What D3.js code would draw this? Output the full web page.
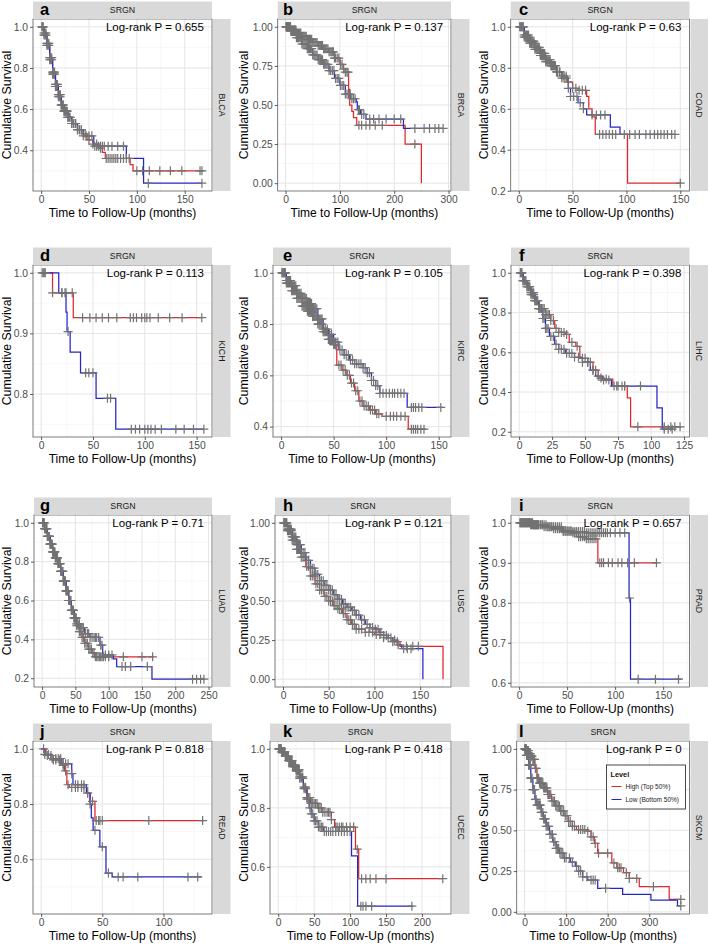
<!DOCTYPE html>
<html><head><meta charset="utf-8">
<script src="https://cdn.jsdelivr.net/npm/d3@7"></script>
<style>body{margin:0;background:#fff} svg{display:block} text{font-family:"Liberation Sans",Arial,Helvetica,sans-serif}</style>
</head><body><svg id="c" width="709" height="945"></svg>
<script>
// ---------------- DATA ----------------
const geneLabel = "SRGN";
const letters = ["a","b","c","d","e","f","g","h","i","j","k","l"];
const cancers = ["BLCA","BRCA","COAD","KICH","KIRC","LIHC","LUAD","LUSC","PRAD","READ","UCEC","SKCM"];
const pValues = ["0.655","0.137","0.63","0.113","0.105","0.398","0.71","0.121","0.657","0.818","0.418","0"];
const xMaxes = [170,290,151,157,154,123,243,175,169,133,229,378];
const yMins  = [0.24,0,0.237,0.742,0.39,0.213,0.195,0,0.609,0.43,0.467,0.035];
const xTicks = [[0,50,100,150],[0,100,200,300],[0,50,100,150],[0,50,100,150],[0,50,100,150],[0,25,50,75,100,125],
                [0,50,100,150,200,250],[0,50,100,150],[0,50,100,150],[0,50,100],[0,50,100,150,200],[0,100,200,300]];
const yTicks = [[0.4,0.6,0.8,1.0],[0,0.25,0.5,0.75,1],[0.2,0.4,0.6,0.8,1.0],[0.8,0.9,1.0],[0.4,0.6,0.8,1.0],[0.2,0.4,0.6,0.8,1.0],
                [0.2,0.4,0.6,0.8,1.0],[0,0.25,0.5,0.75,1],[0.6,0.7,0.8,0.9,1.0],[0.6,0.8,1.0],[0.6,0.8,1.0],[0,0.25,0.5,0.75,1]];
const legendTitle = "Level";
const legendLabels = ["High (Top 50%)","Low (Bottom 50%)"];
const xTitle = "Time to Follow-Up (months)";
const yTitle = "Cumulative Survival";

// Kaplan-Meier steps [time, survival] (last point = end of follow-up)
const blcaHigh = [[0,1],[3,0.97],[6,0.92],[9,0.85],[12,0.78],[15,0.72],[18,0.67],[21,0.62],[24,0.59],[28,0.56],[32,0.53],[38,0.50],[44,0.48],[48,0.45],[54,0.43],[60,0.41],[64,0.39],[67,0.36],[93,0.33],[96,0.30],[168,0.30]];
const blcaLow  = [[0,1],[3,0.96],[6,0.91],[9,0.84],[12,0.77],[15,0.71],[18,0.66],[21,0.62],[24,0.59],[28,0.56],[32,0.53],[38,0.50],[44,0.47],[55,0.42],[89,0.36],[107,0.24],[168,0.24]];
const brcaHigh = [[0,1],[10,0.98],[20,0.96],[30,0.94],[40,0.92],[50,0.90],[60,0.88],[70,0.86],[80,0.84],[90,0.80],[100,0.76],[106,0.73],[110,0.71],[116,0.60],[118,0.50],[122,0.46],[125,0.42],[131,0.37],[220,0.25],[250,0.0]];
const brcaLow  = [[0,1],[10,0.97],[20,0.93],[30,0.89],[40,0.86],[50,0.82],[60,0.79],[70,0.76],[80,0.72],[90,0.67],[100,0.625],[110,0.57],[120,0.54],[130,0.52],[132,0.47],[138,0.44],[148,0.41],[217,0.35],[290,0.35]];
const coadHigh = [[0,1],[5,0.96],[10,0.93],[15,0.90],[20,0.87],[25,0.84],[30,0.81],[35,0.78],[40,0.76],[45,0.73],[50,0.70],[55,0.69],[63,0.66],[65,0.60],[68,0.56],[71,0.475],[101,0.237],[151,0.237]];
const coadLow  = [[0,1],[5,0.95],[10,0.92],[15,0.89],[20,0.86],[25,0.83],[30,0.81],[35,0.78],[40,0.75],[46,0.70],[48,0.66],[55,0.63],[60,0.60],[63,0.57],[85,0.51],[94,0.475],[145,0.475]];
const kichHigh = [[0,1],[11,0.967],[31,0.926],[155,0.926]];
const kichLow  = [[0,1],[17,0.967],[24,0.935],[25,0.903],[28,0.869],[38,0.835],[53,0.793],[72,0.742],[157,0.742]];
const kircHigh = [[0,1],[5,0.96],[10,0.93],[15,0.90],[20,0.87],[25,0.85],[30,0.83],[35,0.80],[40,0.77],[45,0.74],[50,0.72],[53,0.64],[58,0.62],[62,0.60],[66,0.57],[70,0.54],[74,0.50],[78,0.48],[84,0.465],[90,0.45],[96,0.44],[121,0.39],[138,0.39]];
const kircLow  = [[0,1],[5,0.97],[10,0.95],[15,0.92],[20,0.90],[25,0.88],[30,0.86],[35,0.82],[40,0.78],[45,0.76],[50,0.73],[55,0.70],[60,0.68],[65,0.66],[70,0.645],[78,0.63],[82,0.61],[86,0.58],[90,0.56],[94,0.53],[120,0.475],[154,0.475]];
const lihcHigh = [[0,1],[3,0.96],[6,0.93],[9,0.89],[12,0.86],[15,0.82],[20,0.79],[24,0.76],[27,0.72],[30,0.70],[35,0.69],[38,0.65],[43,0.63],[46,0.57],[52,0.55],[56,0.51],[60,0.47],[64,0.465],[71,0.43],[82,0.37],[84.5,0.225],[123,0.225]];
const lihcLow  = [[0,1],[3,0.96],[6,0.93],[9,0.90],[12,0.86],[15,0.82],[18,0.77],[20,0.72],[23,0.68],[27,0.64],[30,0.615],[35,0.595],[42,0.575],[48,0.55],[54,0.51],[58,0.48],[63,0.46],[70,0.43],[104.5,0.32],[108.5,0.213],[117,0.213]];
const luadHigh = [[0,1],[4,0.97],[8,0.93],[12,0.89],[16,0.85],[20,0.82],[24,0.79],[28,0.75],[32,0.70],[36,0.65],[40,0.60],[44,0.55],[48,0.51],[52,0.47],[56,0.44],[60,0.41],[64,0.38],[70,0.35],[75,0.33],[79,0.31],[168,0.31]];
const luadLow  = [[0,1],[4,0.97],[8,0.93],[12,0.89],[16,0.85],[20,0.82],[24,0.79],[28,0.75],[32,0.70],[36,0.65],[40,0.60],[44,0.55],[48,0.51],[52,0.48],[58,0.46],[64,0.43],[72,0.41],[87,0.37],[91,0.32],[107,0.30],[112,0.26],[165,0.195],[243,0.195]];
const luscHigh = [[0,1],[5,0.95],[10,0.89],[15,0.83],[20,0.78],[25,0.72],[30,0.66],[35,0.61],[40,0.57],[45,0.53],[50,0.50],[55,0.47],[60,0.45],[65,0.42],[70,0.38],[75,0.35],[80,0.32],[90,0.30],[100,0.285],[110,0.265],[120,0.24],[128,0.21],[175,0]];
const luscLow  = [[0,1],[5,0.96],[10,0.91],[15,0.86],[20,0.81],[25,0.76],[30,0.71],[35,0.67],[40,0.63],[45,0.60],[50,0.57],[55,0.54],[60,0.51],[65,0.48],[70,0.46],[75,0.44],[80,0.41],[85,0.38],[90,0.35],[95,0.33],[100,0.32],[105,0.30],[110,0.28],[115,0.265],[120,0.25],[125,0.22],[130,0.195],[153,0]];
const pradHigh = [[0,1],[15,0.995],[30,0.99],[45,0.98],[55,0.975],[62,0.965],[70,0.96],[82,0.90],[144,0.90]];
const pradLow  = [[0,1],[12,0.995],[25,0.99],[35,0.985],[45,0.978],[70,0.975],[114.5,0.812],[116,0.609],[169,0.609]];
const readHigh = [[0,1],[4,0.976],[10,0.96],[16,0.94],[19,0.92],[21,0.87],[23,0.86],[37.5,0.84],[40,0.81],[44,0.74],[133,0.74]];
const readLow  = [[0,1],[3,0.98],[8,0.965],[17,0.946],[25,0.91],[26,0.87],[37,0.84],[40,0.80],[41,0.75],[42.5,0.705],[48,0.645],[53,0.55],[58,0.536],[131,0.536]];
const ucecHigh = [[0,1],[5,0.99],[10,0.975],[15,0.96],[20,0.945],[25,0.93],[30,0.905],[35,0.87],[40,0.835],[45,0.815],[55,0.80],[62,0.785],[74,0.76],[78.5,0.735],[107.5,0.66],[112,0.56],[229,0.56]];
const ucecLow  = [[0,1],[5,0.99],[10,0.975],[15,0.96],[20,0.94],[25,0.925],[30,0.90],[35,0.865],[40,0.83],[43,0.80],[46,0.78],[50,0.756],[56,0.735],[63,0.72],[102,0.637],[110.5,0.467],[188,0.467]];
const skcmHigh = [[0,1],[5,0.99],[10,0.97],[15,0.955],[20,0.935],[25,0.88],[30,0.82],[35,0.79],[45,0.76],[55,0.72],[65,0.68],[75,0.65],[85,0.62],[95,0.59],[105,0.555],[115,0.525],[125,0.505],[150,0.495],[160,0.46],[168,0.42],[176,0.36],[210,0.30],[222,0.27],[238,0.24],[252,0.205],[276,0.155],[348,0.076],[378,0.076]];
const skcmLow  = [[0,1],[5,0.96],[10,0.90],[15,0.82],[20,0.75],[25,0.69],[30,0.655],[40,0.61],[45,0.57],[52,0.525],[60,0.475],[68,0.43],[76,0.39],[84,0.36],[95,0.33],[110,0.305],[122,0.28],[130,0.25],[140,0.215],[152,0.195],[176,0.144],[236,0.107],[304,0.072],[368,0.036],[376,0.036]];

// censoring times (months)
const blcaHighCens = [1,2,3,4,5,6,7,8,9,10,11,12,13,14,15,16,17,18,19,20,21,22,23,24,25,26,27,28,29,30,32,34,36,38,40,42,46,50,54,58,62,68,70,72,74,76,78,80,83,86,89,92,100,106,113,124,135,147,166,168];
const blcaLowCens  = [1,2,3,4,5,6,7,8,9,10,11,12,13,14,15,16,17,18,19,20,21,22,23,24,25,26,27,28,30,32,34,36,38,40,42,44,47,50,53,56,58,60,62,64,66,70,74,80,86,112,168];
const brcaHighCens = [1,2,3,4,5,6,7,8,9,10,11,12,13,14,15,16,17,18,19,20,22,24,26,28,30,32,34,36,38,40,42,44,46,48,50,52,54,56,58,60,62,64,66,68,70,72,74,76,78,80,82,84,86,88,90,92,95,98,101,104,107,110,113,115,135,140,148,155,165,178,238];
const brcaLowCens  = [1,2,3,4,5,6,7,8,9,10,11,12,13,14,15,16,17,18,19,20,22,24,26,28,30,32,34,36,38,40,42,44,46,48,50,52,54,56,58,60,62,64,66,68,70,72,74,76,78,80,83,86,89,92,95,98,101,104,107,110,113,116,119,122,125,128,134,136,140,144,155,162,172,185,200,212,238,255,265,275,282,290];
const coadHighCens = [1,2,3,4,5,6,7,8,9,10,11,12,13,14,15,16,17,18,19,20,21,22,23,24,25,26,27,28,29,30,31,32,33,34,35,36,38,40,42,44,46,50,53,56,59,62,75,78,81,84,87,90,150];
const coadLowCens  = [1,2,3,4,5,6,7,8,9,10,11,12,13,14,15,16,17,18,19,20,21,22,23,24,25,26,27,28,29,30,31,32,33,34,36,38,40,42,44,46,48,51,54,57,60,68,72,76,80,98,103,108,112,118,122,126,129,132,135,138,142,145];
const kichHighCens = [1,3,11,20,24,30,40,47,53,59,65,73,86,89,92,97,100,102,105,113,124,136,155];
const kichLowCens  = [2,4,20,23,26,43,46,50,64,67,87,91,95,100,103,106,110,116,130,138,147,157];
const kircHighCens = [1,2,3,4,5,6,7,8,9,10,11,12,13,14,15,16,17,18,19,20,21,22,23,24,25,26,27,28,29,30,31,32,33,34,35,36,37,38,39,40,41,42,43,44,45,46,47,48,49,50,51,52,55,57,59,61,63,65,67,69,71,73,75,77,79,81,83,85,87,89,91,93,100,104,107,110,114,118,124,126,128,130,133,136];
const kircLowCens  = [1,2,3,4,5,6,7,8,9,10,11,12,13,14,15,16,17,18,19,20,21,22,23,24,25,26,27,28,29,30,31,32,33,34,35,36,37,38,39,40,42,44,46,48,50,52,54,56,58,60,62,64,66,68,70,72,74,76,78,80,82,84,86,88,90,92,94,97,100,103,106,108,111,114,117,124,126,128,131,134,152];
const lihcHighCens = [1,2,3,4,5,6,7,8,9,10,11,12,13,14,15,16,17,18,19,20,21,22,23,24,26,28,30,32,34,36,40,44,48,50,52,54,56,58,62,66,72,75,78,80,90,110,115,118,122];
const lihcLowCens  = [1,2,3,4,5,6,7,8,9,10,11,12,13,14,15,16,17,18,19,20,21,22,24,26,28,30,32,34,36,38,40,42,45,48,52,56,60,64,68,74,80,92,110,113,116];
const luadHighCens = [1,2,3,4,5,6,7,8,9,10,11,12,13,14,15,16,17,18,19,20,21,22,23,24,25,26,27,28,29,30,31,32,33,34,35,36,37,38,39,40,41,42,43,44,45,46,47,48,49,50,51,52,54,56,58,60,62,64,66,68,70,72,74,76,78,80,82,84,86,88,90,92,95,100,122,150,166];
const luadLowCens  = [1,2,3,4,5,6,7,8,9,10,11,12,13,14,15,16,17,18,19,20,21,22,23,24,25,26,27,28,29,30,31,32,33,34,35,36,37,38,39,40,41,42,43,44,45,46,47,48,49,50,51,52,54,56,58,60,62,65,68,70,72,75,78,80,82,85,88,90,95,100,105,120,125,133,158,226,232,238,243];
const luscHighCens = [1,2,3,4,5,6,7,8,9,10,11,12,13,14,15,16,17,18,19,20,22,24,26,28,30,32,34,36,38,40,42,44,46,48,50,52,54,56,58,60,62,64,66,68,70,72,74,76,78,80,83,86,90,94,98,102,106,110,115,120,125,135,142,148];
const luscLowCens  = [1,2,3,4,5,6,7,8,9,10,11,12,13,14,15,16,17,18,19,20,22,24,26,28,30,32,34,36,38,40,42,44,46,48,50,52,54,56,58,60,62,64,66,68,70,72,74,76,78,80,83,86,89,92,95,98,101,104,107,110,113,118,122,126,132,136,140];
const pradHighCens = [1,2,3,4,5,6,7,8,9,10,11,12,13,14,15,16,17,18,19,20,22,24,26,28,30,32,34,36,38,40,42,44,46,48,50,52,54,56,58,60,62,64,66,68,70,72,74,76,78,80,84,86,88,93,97,103,107,113,120,143];
const pradLowCens  = [1,2,3,4,5,6,7,8,9,10,11,12,13,14,15,16,17,18,19,20,22,24,26,28,30,32,34,36,38,40,42,44,46,48,50,52,54,56,58,60,62,64,66,68,70,72,74,76,78,80,82,84,86,88,90,92,95,100,105,110,115,124,142,166];
const readHighCens = [2,5,8,10,12,15,18,20,22,25,28,30,33,35,38,42,45,47,48,50,88,132];
const readLowCens  = [3,6,9,12,14,16,18,20,22,25,28,30,33,35,38,40,44,50,55,63,67,79,120,128];
const ucecHighCens = [1,2,3,4,5,6,7,8,9,10,11,12,13,14,15,16,17,18,19,20,21,22,23,24,25,26,27,28,29,30,32,34,36,38,40,42,44,46,48,50,52,54,56,58,60,62,65,68,70,72,74,80,82,85,88,90,95,100,105,110,116,122,128,136,150,229];
const ucecLowCens  = [1,2,3,4,5,6,7,8,9,10,11,12,13,14,15,16,17,18,19,20,21,22,23,24,25,26,27,28,29,30,32,34,36,38,40,42,44,46,48,50,52,54,56,58,60,62,64,67,70,73,76,80,84,88,92,96,100,115,118,122,130,186];
const skcmHighCens = [1,2,3,4,5,6,7,8,9,10,11,12,13,14,15,16,18,20,22,24,26,28,30,32,34,36,38,40,42,44,46,48,50,52,54,56,58,60,63,66,69,72,75,78,81,84,87,90,94,98,102,106,110,115,120,130,135,140,145,152,160,165,170,178,200,215,224,228,232,245,252,270,310,376];
const skcmLowCens  = [1,2,3,4,5,6,7,8,9,10,11,12,13,14,15,16,18,20,22,24,26,28,30,32,34,36,38,40,42,44,46,48,50,52,55,58,61,64,67,70,73,76,79,82,85,88,92,96,100,108,115,125,130,135,140,150,160,165,170,195,376];

const highSteps = [blcaHigh,brcaHigh,coadHigh,kichHigh,kircHigh,lihcHigh,luadHigh,luscHigh,pradHigh,readHigh,ucecHigh,skcmHigh];
const lowSteps  = [blcaLow,brcaLow,coadLow,kichLow,kircLow,lihcLow,luadLow,luscLow,pradLow,readLow,ucecLow,skcmLow];
const highCens  = [blcaHighCens,brcaHighCens,coadHighCens,kichHighCens,kircHighCens,lihcHighCens,luadHighCens,luscHighCens,pradHighCens,readHighCens,ucecHighCens,skcmHighCens];
const lowCens   = [blcaLowCens,brcaLowCens,coadLowCens,kichLowCens,kircLowCens,lihcLowCens,luadLowCens,luscLowCens,pradLowCens,readLowCens,ucecLowCens,skcmLowCens];

// ---------------- LAYOUT / STYLE ----------------
const plotLefts = [33,277.7,510.7, 33,273,511, 34,275,511, 33,270,516.7];
const plotRights = [212,451,689.5];
const plotTops = [19,265,515,741];
const plotBottoms = [191,437,687,914];
const yTitleX = [7,244,484];
const letterX = [40,283,519];
const stripH = 17.5;
const colHigh = "#e3262b", colLow = "#2525c8", colCens = "#737373";
const FONT = '"Liberation Sans",Arial,Helvetica,sans-serif';

const svg = d3.select("#c");

function survAt(steps, t){
  let v = steps[0][1];
  for (const s of steps){ if (s[0] <= t) v = s[1]; else break; }
  return v;
}

for (let i = 0; i < 12; i++){
  const r = Math.floor(i/3), c = i % 3;
  const L = plotLefts[i], R = plotRights[c], T = plotTops[r], B = plotBottoms[r];
  const xm = xMaxes[i];
  const x = d3.scaleLinear().domain([-0.05*xm, 1.05*xm]).range([L, R]);
  const lo = yMins[i], span = 1 - lo;
  const y = d3.scaleLinear().domain([lo - 0.05*span, 1 + 0.05*span]).range([B, T]);
  const g = svg.append("g");

  g.append("rect").attr("x",L).attr("y",T).attr("width",R-L).attr("height",B-T).attr("fill","#fff");

  // grid
  const xt = xTicks[i], yt = yTicks[i];
  const xs = xt[1]-xt[0], ys = yt[1]-yt[0];
  const [xd0,xd1] = x.domain(), [yd0,yd1] = y.domain();
  const xMinor = [xt[0]-xs/2].concat(xt.map(v=>v+xs/2)).filter(v=>v>xd0 && v<xd1);
  const yMinor = [yt[0]-ys/2].concat(yt.map(v=>v+ys/2)).filter(v=>v>yd0 && v<yd1);
  g.selectAll(null).data(xMinor).enter().append("line")
    .attr("x1",d=>x(d)).attr("x2",d=>x(d)).attr("y1",T).attr("y2",B)
    .attr("stroke","#f1f1f1").attr("stroke-width",0.6);
  g.selectAll(null).data(yMinor).enter().append("line")
    .attr("y1",d=>y(d)).attr("y2",d=>y(d)).attr("x1",L).attr("x2",R)
    .attr("stroke","#f1f1f1").attr("stroke-width",0.6);
  g.selectAll(null).data(xt).enter().append("line")
    .attr("x1",d=>x(d)).attr("x2",d=>x(d)).attr("y1",T).attr("y2",B)
    .attr("stroke","#e4e4e4").attr("stroke-width",1);
  g.selectAll(null).data(yt).enter().append("line")
    .attr("y1",d=>y(d)).attr("y2",d=>y(d)).attr("x1",L).attr("x2",R)
    .attr("stroke","#e4e4e4").attr("stroke-width",1);

  // curves
  const line = d3.line().x(d=>x(d[0])).y(d=>y(d[1])).curve(d3.curveStepAfter);
  g.append("path").attr("d",line(highSteps[i])).attr("fill","none").attr("stroke",colHigh).attr("stroke-width",1.25);
  g.append("path").attr("d",line(lowSteps[i])).attr("fill","none").attr("stroke",colLow).attr("stroke-width",1.25);

  // censor marks
  const marks = highCens[i].map(t=>[t, survAt(highSteps[i], t)])
    .concat(lowCens[i].map(t=>[t, survAt(lowSteps[i], t)]));
  g.selectAll(null).data(marks).enter().append("path")
    .attr("d", d=>{const px=x(d[0]), py=y(d[1]); return `M${px-4.5},${py}h9M${px},${py-4.5}v9`;})
    .attr("stroke",colCens).attr("stroke-width",1.2).attr("fill","none");

  // border
  g.append("rect").attr("x",L).attr("y",T).attr("width",R-L).attr("height",B-T)
    .attr("fill","none").attr("stroke","#5a5a5a").attr("stroke-width",0.8);

  // axes
  const digits = yt.some(v=>Math.abs(v*10-Math.round(v*10))>1e-9) ? 2 : 1;
  const xAxis = d3.axisBottom(x).tickValues(xt).tickSize(3).tickPadding(2).tickFormat(d3.format("d"));
  const yAxis = d3.axisLeft(y).tickValues(yt).tickSize(3).tickPadding(2).tickFormat(d3.format("."+digits+"f"));
  const gx = g.append("g").attr("transform",`translate(0,${B})`).call(xAxis);
  const gy = g.append("g").attr("transform",`translate(${L},0)`).call(yAxis);
  [gx,gy].forEach(a=>{
    a.select(".domain").remove();
    a.selectAll(".tick line").attr("stroke","#333").attr("stroke-width",0.8);
    a.selectAll(".tick text").attr("fill","#4d4d4d").style("font-size","10.3px").style("font-family",FONT);
  });

  // top strip
  g.append("rect").attr("x",L).attr("y",T-stripH).attr("width",R-L).attr("height",stripH).attr("fill","#d9d9d9");
  g.append("text").attr("x",(L+R)/2).attr("y",T-stripH/2).attr("dy","0.35em").attr("text-anchor","middle")
    .style("font-size","8.8px").attr("fill","#1a1a1a").text(geneLabel);
  // right strip
  g.append("rect").attr("x",R+1).attr("y",T).attr("width",stripH).attr("height",B-T).attr("fill","#d9d9d9");
  g.append("text").attr("transform",`translate(${R+1+stripH/2},${(T+B)/2}) rotate(90)`).attr("dy","0.35em")
    .attr("text-anchor","middle").style("font-size","8.8px").attr("fill","#1a1a1a").text(cancers[i]);

  // letter
  g.append("text").attr("x",letterX[c]).attr("y",T-4).style("font-size","16.5px").style("font-weight","bold")
    .attr("fill","#000").text(letters[i]);

  // p-value
  g.append("text").attr("x",x(xm)).attr("y",y(1)).attr("dy","0.35em").attr("text-anchor","end")
    .style("font-size","11.5px").attr("fill","#000").text("Log-rank P = " + pValues[i]);

  // axis titles
  g.append("text").attr("x",(L+R)/2).attr("y",B+26).attr("text-anchor","middle")
    .style("font-size","12px").attr("fill","#000").text(xTitle);
  g.append("text").attr("transform",`translate(${yTitleX[c]},${(T+B)/2}) rotate(-90)`).attr("dy","0.35em")
    .attr("text-anchor","middle").style("font-size","12.3px").attr("fill","#000").text(yTitle);

  // legend (last panel)
  if (i === 11){
    const lx = R - 83, ly = T + 24;
    const lg = g.append("g").attr("transform",`translate(${lx},${ly})`);
    lg.append("rect").attr("width",79).attr("height",44).attr("fill","#fff").attr("stroke","#333").attr("stroke-width",0.9);
    lg.append("text").attr("x",4).attr("y",12).style("font-size","7.3px").style("font-weight","bold").attr("fill","#111").text(legendTitle);
    [colHigh,colLow].forEach((col,k)=>{
      const yy = 21.5 + k*13;
      lg.append("line").attr("x1",5).attr("x2",15).attr("y1",yy).attr("y2",yy).attr("stroke",col).attr("stroke-width",1);
      lg.append("text").attr("x",19).attr("y",yy).attr("dy","0.35em").style("font-size","6.5px").attr("fill","#222").text(legendLabels[k]);
    });
  }
}
</script></body></html>
